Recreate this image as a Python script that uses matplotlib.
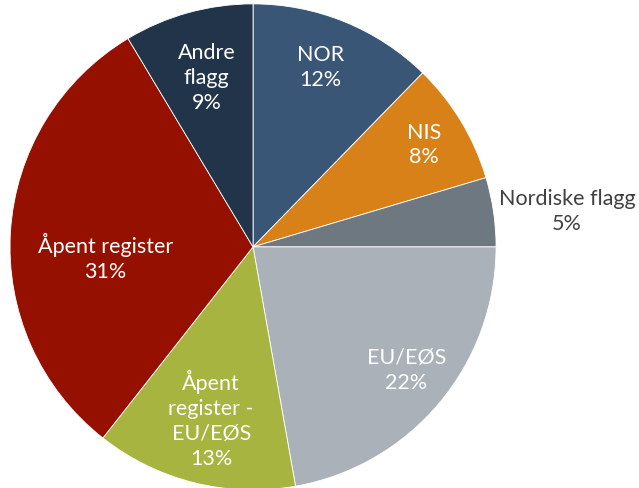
import matplotlib
matplotlib.use('Agg')
import numpy as np
import matplotlib.pyplot as plt

plt.rcParams['font.family'] = ['Lato', 'DejaVu Sans']

labels = ['NOR', 'NIS', 'Nordiske flagg', 'EU/EØS', 'Åpent\nregister -\nEU/EØS',
          'Åpent register', 'Andre\nflagg']
# shares read from the slice edges; labels show them rounded
shares = [12.3, 8.1, 4.6, 22.2, 13.4, 30.8, 8.6]
colors = ['#3A5677', '#D98119', '#6D7880', '#AAB1B8', '#A7B43F', '#961000', '#22344A']
text_colors = ['white', 'white', '#404040', 'white', 'white', 'white', 'white']
label_dist = [0.79, 0.82, 1.30, 0.81, 0.73, 0.61, 0.72]
label_shift = [1.6, -0.4, -1.9, 1.2, 0.4, 7.6, 0.0]  # degrees off the slice middle

fig = plt.figure(figsize=(6.39, 4.88), dpi=100)
ax = fig.add_axes([0, 0, 1, 1])

wedges, _ = ax.pie(shares, colors=colors, startangle=90, counterclock=False,
                   radius=1, wedgeprops=dict(edgecolor='white', linewidth=0.6))

for w, lab, val, tc, d, s in zip(wedges, labels, shares, text_colors, label_dist, label_shift):
    ang = np.deg2rad((w.theta1 + w.theta2) / 2 + s)
    ax.text(d * np.cos(ang), d * np.sin(ang), f'{lab}\n{round(val)}%', ha='center', va='center',
            color=tc, fontsize=15.5, linespacing=1.3)

ax.set_xlim(-1.041, 1.588)
ax.set_ylim(-0.992, 1.016)
ax.set_aspect('equal')
ax.axis('off')

fig.savefig('out.png', dpi=100)
